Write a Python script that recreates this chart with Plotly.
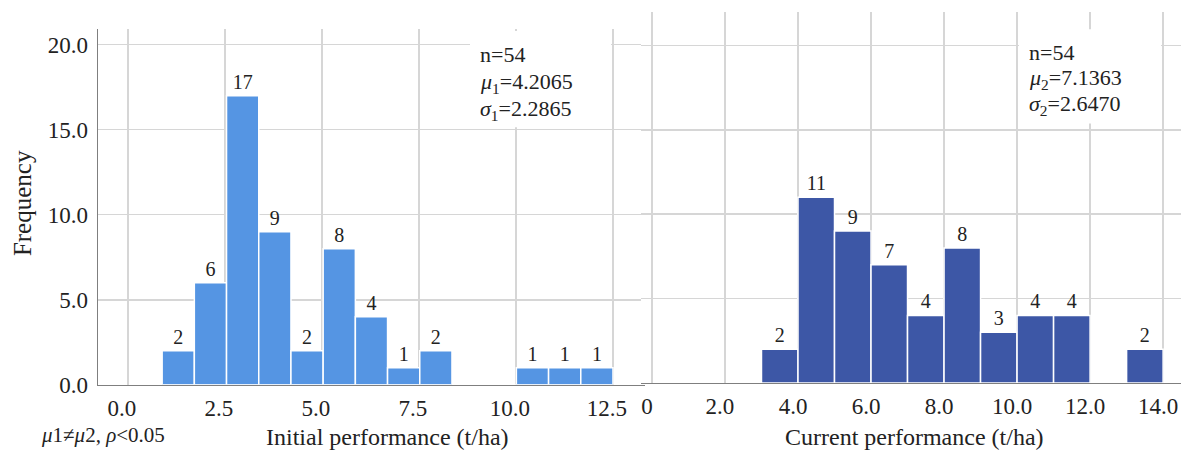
import plotly.graph_objects as go

# ---------------- data ----------------
left_bin_start = [0.88, 1.71, 2.54, 3.37, 4.20, 5.03, 5.86, 6.69, 7.52, 8.35, 9.18, 10.01, 10.84, 11.67]
left_bin_width = 0.83
left_counts = [2, 6, 17, 9, 2, 8, 4, 1, 2, 0, 0, 1, 1, 1]

right_bin_start = [3, 4, 5, 6, 7, 8, 9, 10, 11, 12, 13]
right_bin_width = 1.0
right_counts = [2, 11, 9, 7, 4, 8, 3, 4, 4, 0, 2]

left_xticks = [0, 2.5, 5, 7.5, 10, 12.5]
left_xticklabels = ["0.0", "2.5", "5.0", "7.5", "10.0", "12.5"]
right_xticks = [0, 2, 4, 6, 8, 10, 12, 14]
right_xticklabels = ["0", "2.0", "4.0", "6.0", "8.0", "10.0", "12.0", "14.0"]
yticks = [0, 5, 10, 15, 20]
yticklabels = ["0.0", "5.0", "10.0", "15.0", "20.0"]

left_stats = ["n=54", "<i>μ</i><sub>1</sub>=4.2065", "<i>σ</i><sub>1</sub>=2.2865"]
right_stats = ["n=54", "<i>μ</i><sub>2</sub>=7.1363", "<i>σ</i><sub>2</sub>=2.6470"]

# ---------------- figure ----------------
W, H = 1181, 462
FONT = "Liberation Serif"
TXT = "#222222"
GRID = "#d6d6d6"
AXL = "#7f7f7f"


def px(x):
    return x / W


def py(y):
    return 1 - y / H


fig = go.Figure()

fig.add_trace(go.Bar(
    x=left_bin_start, y=left_counts, width=left_bin_width, offset=0,
    marker=dict(color="#5595e3", line=dict(color="white", width=1.5)),
    text=[str(c) if c else "" for c in left_counts], textposition="outside",
    textfont=dict(family=FONT, size=20, color=TXT), cliponaxis=False,
    xaxis="x", yaxis="y", showlegend=False, hoverinfo="skip",
))
fig.add_trace(go.Bar(
    x=right_bin_start, y=right_counts, width=right_bin_width, offset=0,
    marker=dict(color="#3d57a6", line=dict(color="white", width=1.5)),
    text=[str(c) if c else "" for c in right_counts], textposition="outside",
    textfont=dict(family=FONT, size=20, color=TXT), cliponaxis=False,
    xaxis="x2", yaxis="y2", showlegend=False, hoverinfo="skip",
))

tickfont = dict(family=FONT, size=23, color=TXT)

fig.update_layout(
    width=W, height=H,
    margin=dict(l=0, r=0, t=0, b=0),
    paper_bgcolor="white", plot_bgcolor="white",
    bargap=0,
    xaxis=dict(domain=[px(98), px(645)], range=[-0.773, 13.325], anchor="y",
               tickmode="array", tickvals=left_xticks, ticktext=left_xticklabels,
               showgrid=True, gridcolor=GRID, gridwidth=1.5, zeroline=False,
               showline=True, linecolor=AXL, linewidth=1.5, ticks="",
               tickfont=tickfont, ticklabelshift=-6, ticklabelstandoff=2),
    yaxis=dict(domain=[py(396), py(30)], range=[0, 20.91], anchor="x",
               tickmode="array", tickvals=yticks, ticktext=yticklabels,
               showgrid=True, gridcolor=GRID, gridwidth=1.5, zeroline=False,
               showline=True, linecolor=AXL, linewidth=1.5, ticks="",
               tickfont=tickfont, ticklabelstandoff=4),
    xaxis2=dict(domain=[px(641), 1.0], range=[-0.30, 14.49], anchor="y2",
                tickmode="array", tickvals=right_xticks, ticktext=right_xticklabels,
                showgrid=True, gridcolor=GRID, gridwidth=1.5, zeroline=False,
                showline=True, linecolor=AXL, linewidth=1.5, ticks="",
                tickfont=tickfont, ticklabelshift=-5, ticklabelstandoff=2),
    yaxis2=dict(domain=[py(394), py(12)], range=[0, 22.0], anchor="x2",
                tickmode="array", tickvals=yticks,
                showgrid=True, gridcolor=GRID, gridwidth=1.5, zeroline=False,
                showline=False, showticklabels=False, ticks=""),
)

# white boxes behind the stats text
fig.add_shape(type="rect", xref="paper", yref="paper",
              x0=px(470), x1=px(611), y0=py(131), y1=py(32),
              fillcolor="white", line=dict(width=0), layer="above")
fig.add_shape(type="rect", xref="paper", yref="paper",
              x0=px(1019), x1=px(1161), y0=py(127), y1=py(30),
              fillcolor="white", line=dict(width=0), layer="above")

STAT_FONT = dict(family=FONT, size=22, color=TXT)
ann = []
for txt, yc in zip(left_stats, [56, 85, 113]):
    ann.append(dict(text=txt, x=px(478), y=py(yc), xref="paper", yref="paper",
                    xanchor="left", yanchor="middle", showarrow=False, font=STAT_FONT))
for txt, yc in zip(right_stats, [54, 81, 108]):
    ann.append(dict(text=txt, x=px(1027), y=py(yc), xref="paper", yref="paper",
                    xanchor="left", yanchor="middle", showarrow=False, font=STAT_FONT))

titlefont = dict(family=FONT, size=24, color=TXT)
ann.append(dict(text="Initial performance (t/ha)", x=px(387), y=py(450),
                xref="paper", yref="paper", xanchor="center", yanchor="middle",
                showarrow=False, font=titlefont))
ann.append(dict(text="Current performance (t/ha)", x=px(915), y=py(450),
                xref="paper", yref="paper", xanchor="center", yanchor="middle",
                showarrow=False, font=titlefont))
ann.append(dict(text="Frequency", x=px(22), y=py(209), textangle=-90,
                xref="paper", yref="paper", xanchor="center", yanchor="middle",
                showarrow=False, font=dict(family=FONT, size=25, color=TXT)))
ann.append(dict(text="<i>μ</i>1≠<i>μ</i>2, <i>ρ</i>&lt;0.05", x=px(39), y=py(448),
                xref="paper", yref="paper", xanchor="left", yanchor="middle",
                showarrow=False, font=dict(family=FONT, size=21, color=TXT)))
fig.update_layout(annotations=ann, hovermode=False)

fig.write_html("out.html",
               config={"displayModeBar": False, "staticPlot": True},
               post_script="document.body.style.margin='0';document.body.style.overflow='hidden';")
